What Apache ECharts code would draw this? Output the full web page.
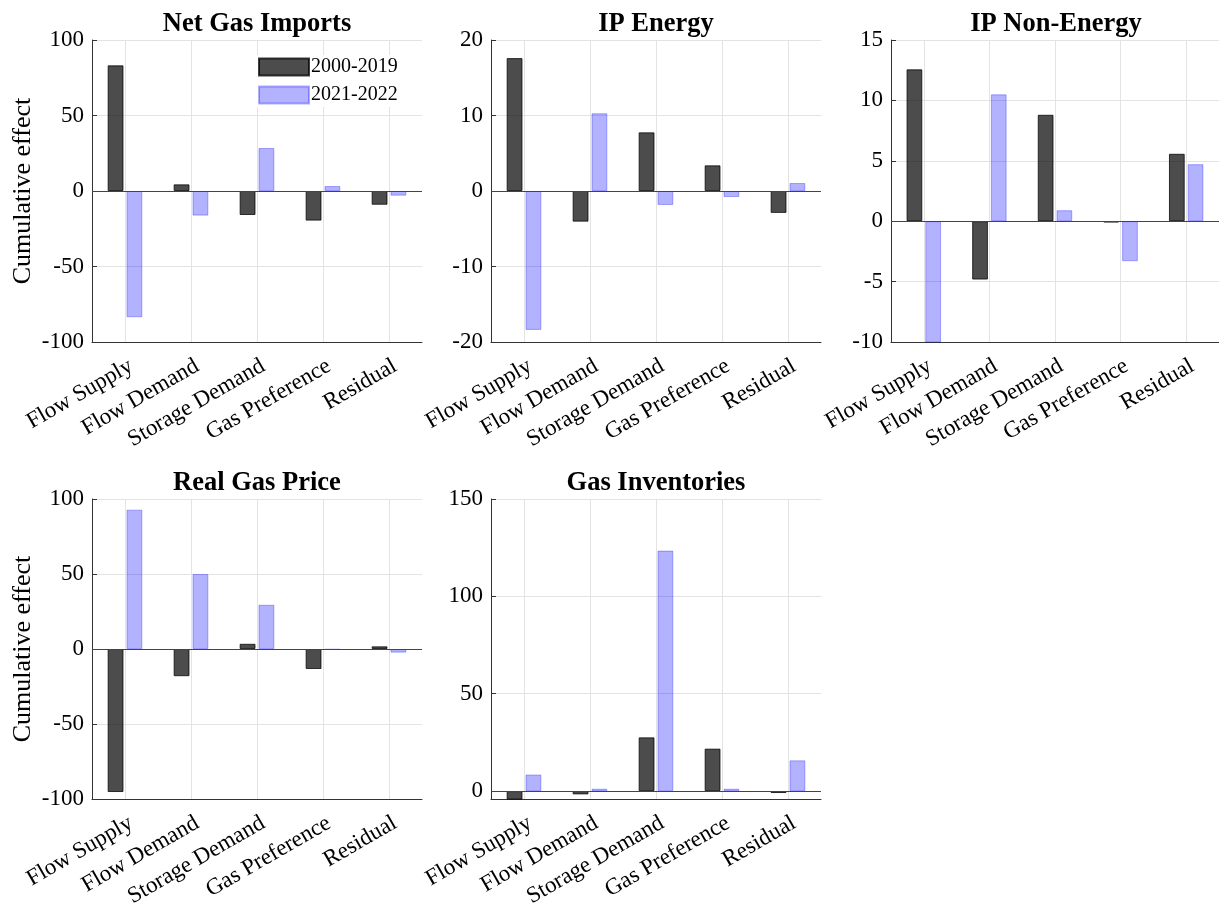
<!DOCTYPE html>
<html>
<head>
<meta charset="utf-8">
<script src="https://cdn.jsdelivr.net/npm/echarts@6/dist/echarts.min.js"></script>
<style>
  html, body { margin: 0; padding: 0; background: #fff; }
  #main { width: 1219px; height: 910px; }
</style>
</head>
<body>
<div id="main"></div>
<script>
  var categories = ['Flow Supply', 'Flow Demand', 'Storage Demand', 'Gas Preference', 'Residual'];
  var seriesNames = ['2000-2019', '2021-2022'];

  // values
  var netImportsOld = [83.2, 4.4, -15.9, -19.6, -9.1];
  var netImportsNew = [-83.6, -16.3, 28.5, 3.3, -3.1];
  var ipEnergyOld = [17.6, -4.06, 7.77, 3.4, -2.9];
  var ipEnergyNew = [-18.4, 10.3, -1.85, -0.8, 1.06];
  var ipNonEnergyOld = [12.57, -4.83, 8.81, -0.11, 5.58];
  var ipNonEnergyNew = [-10.4, 10.5, 0.91, -3.31, 4.72];
  var gasPriceOld = [-95.3, -18.1, 3.5, -13.3, 1.8];
  var gasPriceNew = [92.9, 50.0, 29.5, -0.4, -2.4];
  var inventoriesOld = [-4.6, -1.7, 27.6, 21.8, -1.0];
  var inventoriesNew = [8.5, 1.2, 123.5, 1.2, 15.8];

  // step: fixed tick interval; split: let echarts pick ticks (min not on a tick)
  var panels = [
    { title: 'Net Gas Imports', old: netImportsOld, recent: netImportsNew, min: -100, max: 100, step: 50, left: 92, top: 40, ylabel: true },
    { title: 'IP Energy', old: ipEnergyOld, recent: ipEnergyNew, min: -20, max: 20, step: 10, left: 491, top: 40 },
    { title: 'IP Non-Energy', old: ipNonEnergyOld, recent: ipNonEnergyNew, min: -10, max: 15, step: 5, left: 891, top: 40 },
    { title: 'Real Gas Price', old: gasPriceOld, recent: gasPriceNew, min: -100, max: 100, step: 50, left: 92, top: 499, ylabel: true },
    { title: 'Gas Inventories', old: inventoriesOld, recent: inventoriesNew, min: -4.1, max: 150, split: 3, left: 491, top: 499 }
  ];

  var plotW = 330, plotH = 302;
  var serif = '"Liberation Serif", "Times New Roman", serif';
  var axisColor = '#333';
  var gridColor = '#e3e3e3';

  var option = {
    backgroundColor: '#fff',
    animation: false,
    textStyle: { fontFamily: serif, color: '#000' },
    title: [],
    grid: [],
    xAxis: [],
    yAxis: [],
    series: [],
    legend: {
      data: seriesNames,
      icon: 'rect',
      left: 256,
      top: 55,
      orient: 'vertical',
      itemWidth: 50,
      itemHeight: 17,
      itemGap: 8,
      padding: [2, 4, 2, 2],
      backgroundColor: '#fff',
      textStyle: { fontFamily: serif, fontSize: 20, color: '#000', padding: [0, 0, 0, -3] }
    }
  };

  panels.forEach(function (p, i) {
    option.title.push({
      text: p.title,
      left: p.left + plotW / 2,
      top: p.top - 29,
      padding: 0,
      textAlign: 'center',
      textStyle: { fontFamily: serif, fontSize: 26.5, fontWeight: 'bold', color: '#000' }
    });
    option.grid.push({ left: p.left, top: p.top, width: plotW, height: plotH });
    option.xAxis.push({
      type: 'category',
      gridIndex: i,
      data: categories,
      boundaryGap: true,
      axisLine: { onZero: false, lineStyle: { color: axisColor, width: 1 } },
      axisTick: { alignWithLabel: true, inside: true, length: 5, lineStyle: { color: axisColor } },
      axisLabel: {
        rotate: 30, interval: 0, margin: 26, padding: [0, -7, 0, 0],
        fontFamily: serif, fontSize: 23, color: '#000'
      },
      splitLine: { show: true, alignWithLabel: true, lineStyle: { color: gridColor, width: 1 } }
    });
    var yAxis = {
      type: 'value',
      gridIndex: i,
      min: p.min,
      max: p.max,
      name: p.ylabel ? 'Cumulative effect' : '',
      nameLocation: 'middle',
      nameGap: 56,
      nameTextStyle: { fontFamily: serif, fontSize: 26, color: '#000' },
      axisLine: { show: true, lineStyle: { color: axisColor, width: 1 } },
      axisTick: { show: true, inside: true, length: 5, lineStyle: { color: axisColor } },
      axisLabel: { margin: 8, fontFamily: serif, fontSize: 23, color: '#000' },
      splitLine: { show: true, lineStyle: { color: gridColor, width: 1 } }
    };
    if (p.step) {
      yAxis.interval = p.step;
    } else {
      yAxis.splitNumber = p.split;
      yAxis.axisLabel.showMinLabel = false;
    }
    option.yAxis.push(yAxis);
    option.series.push({
      name: seriesNames[0],
      type: 'bar',
      xAxisIndex: i,
      yAxisIndex: i,
      data: p.old,
      barWidth: '24%',
      barGap: '19%',
      itemStyle: { color: 'rgba(0,0,0,0.7)', borderColor: 'rgba(0,0,0,0.75)', borderWidth: 1 },
      markLine: {
        silent: true,
        symbol: 'none',
        label: { show: false },
        lineStyle: { color: '#444', width: 1, type: 'solid' },
        data: [{ yAxis: 0 }]
      }
    });
    option.series.push({
      name: seriesNames[1],
      type: 'bar',
      xAxisIndex: i,
      yAxisIndex: i,
      data: p.recent,
      barWidth: '24%',
      barGap: '19%',
      itemStyle: { color: 'rgba(0,0,255,0.3)', borderColor: 'rgba(0,0,255,0.3)', borderWidth: 1 }
    });
  });

  var myChart = echarts.init(document.getElementById('main'), null, { renderer: 'canvas' });
  myChart.setOption(option);
</script>
</body>
</html>
